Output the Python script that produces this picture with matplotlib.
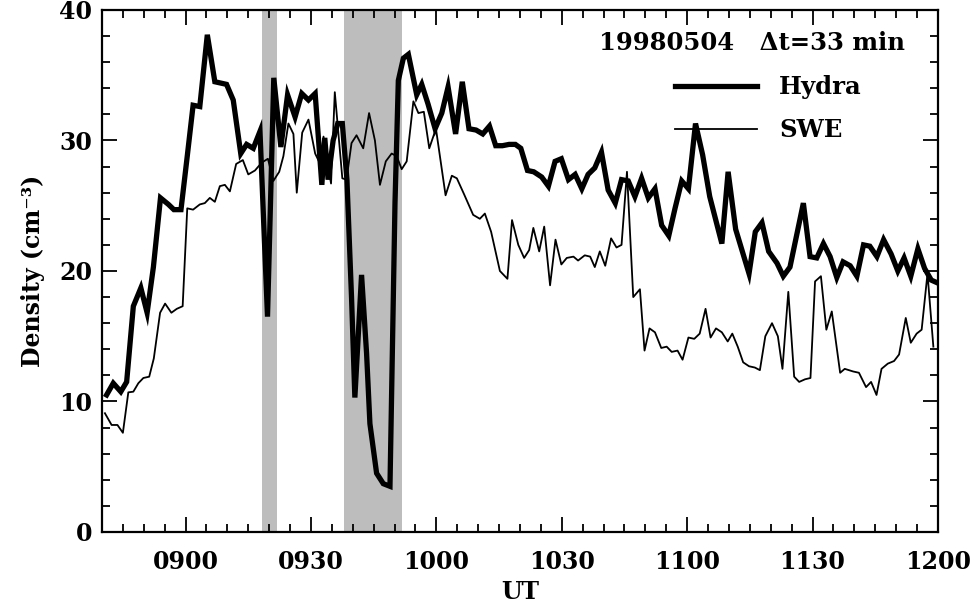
import matplotlib
matplotlib.use("Agg")
import matplotlib.pyplot as plt
from matplotlib.ticker import MultipleLocator

# time in minutes after 08:00 UT
hydra_t = [41.1, 42.7, 44.5, 45.9, 47.5, 49.3, 50.8, 52.3, 54.0, 55.9, 57.2, 58.9,
           60.4, 61.8, 63.4, 65.2, 67.0, 68.4, 69.8, 71.4, 73.2, 74.6, 76.2, 77.8,
           79.6, 81.1, 82.8, 84.4, 86.2, 87.8, 89.4, 91.0, 92.6, 93.3, 94.1, 95.3,
           96.4, 97.5, 98.6, 99.7, 100.5, 102.1, 103.3, 104.1, 105.7, 107.3, 108.9,
           110.1, 110.9, 112.1, 113.3, 115.3, 116.5, 118.0, 119.7, 121.3, 122.8,
           124.6, 126.2, 127.8, 129.5, 131.1, 132.7, 134.2, 135.8, 137.4, 138.9,
           140.2, 141.8, 143.3, 145.2, 146.8, 148.4, 149.9, 151.6, 153.2, 154.8,
           156.3, 157.9, 159.5, 161.1, 162.8, 164.3, 165.9, 167.5, 169.1, 170.7,
           172.3, 173.9, 175.6, 177.1, 178.7, 180.3, 182.0, 183.7, 185.4, 188.3,
           189.8, 191.6, 194.8, 196.3, 197.9, 199.5, 201.5, 203.0, 204.6, 207.8,
           209.4, 211.0, 212.6, 214.2, 215.8, 217.3, 219.0, 220.6, 222.2, 223.7,
           225.4, 227.0, 228.8, 230.4, 231.9, 233.5, 235.2, 236.8, 238.4, 239.8]
hydra_n = [10.5, 11.4, 10.75, 11.5, 17.3, 18.7, 16.8, 20.3, 25.6, 25.1, 24.7, 24.7,
           28.8, 32.7, 32.6, 38.1, 34.5, 34.4, 34.3, 33.1, 29.0, 29.7, 29.4, 30.7,
           16.5, 34.8, 29.5, 33.5, 31.8, 33.6, 33.1, 33.6, 26.6, 30.2, 27.0, 30.0,
           31.3, 31.3, 27.0, 18.0, 10.3, 19.7, 13.7, 8.3, 4.5, 3.7, 3.5,
           25.2, 34.6, 36.3, 36.6, 33.5, 34.3, 32.8, 30.9, 32.1, 34.1,
           30.5, 34.5, 30.9, 30.8, 30.5, 31.1, 29.6, 29.6, 29.7, 29.7,
           29.4, 27.7, 27.6, 27.2, 26.5, 28.4, 28.6, 27.0, 27.4, 26.3,
           27.4, 27.9, 29.1, 26.2, 25.2, 27.0, 26.9, 25.7, 27.1, 25.6,
           26.3, 23.5, 22.7, 24.8, 26.9, 26.3, 31.3, 28.9, 25.7, 22.1,
           27.6, 23.2, 19.8, 23.0, 23.7, 21.5, 20.6, 19.6, 20.3, 25.2,
           21.1, 21.0, 22.1, 21.1, 19.5, 20.7, 20.4, 19.6, 22.0, 21.9,
           21.1, 22.4, 21.3, 20.0, 21.0, 19.6, 21.7, 20.2, 19.3, 19.1]

swe_t = [40.7, 42.3, 43.7, 45.0, 46.3, 47.5, 48.7, 49.9, 51.3, 52.4, 53.9, 55.1,
         56.6, 57.9, 59.3, 60.4, 61.8, 63.4, 64.6, 65.8, 67.0, 68.2, 69.4, 70.6,
         72.1, 73.7, 75.0, 76.6, 78.2, 79.7, 81.0, 82.4, 83.4, 84.6, 85.8, 86.6,
         87.9, 89.4, 91.0, 92.2, 93.0, 94.8, 95.7, 97.5, 98.5, 99.7, 100.9, 102.5,
         103.9, 105.3, 106.5, 107.9, 109.3, 110.5, 111.7, 112.9, 114.5, 115.7,
         117.0, 118.3, 119.9, 122.2, 123.7, 124.9, 126.6, 128.8, 130.4, 131.6,
         133.1, 135.2, 137.0, 138.1, 139.6, 141.0, 142.2, 143.2, 144.6, 145.8,
         147.2, 148.5, 149.9, 151.2, 152.8, 153.9, 155.5, 156.8, 157.9, 159.1,
         160.4, 161.8, 163.1, 164.3, 165.6, 167.1, 168.7, 169.8, 171.0, 172.3,
         173.8, 175.1, 176.3, 177.7, 178.9, 180.3, 181.7, 183.0, 184.4, 185.6,
         186.9, 188.3, 189.7, 190.8, 192.1, 193.4, 194.8, 196.2, 197.4, 198.7,
         200.3, 201.7, 202.8, 204.2, 205.6, 206.8, 208.2, 209.5, 210.6, 212.0,
         213.3, 214.6, 216.6, 217.7, 219.7, 221.1, 222.8, 224.0, 225.3, 226.5,
         228.0, 229.5, 230.7, 232.3, 233.5, 234.9, 236.1, 237.5, 238.9]
swe_n = [9.1, 8.2, 8.2, 7.6, 10.7, 10.75, 11.4, 11.8, 11.9, 13.3, 16.8, 17.5,
         16.8, 17.1, 17.3, 24.8, 24.7, 25.1, 25.2, 25.6, 25.3, 26.5, 26.6, 26.1,
         28.2, 28.5, 27.4, 27.7, 28.3, 28.6, 26.9, 27.6, 28.8, 31.3, 30.5, 26.0,
         30.6, 31.6, 29.0, 28.2, 30.3, 26.7, 33.7, 27.1, 27.0, 29.8, 30.4, 29.4,
         32.1, 30.0, 26.6, 28.4, 29.0, 28.8, 27.8, 28.4, 33.0, 32.1,
         32.2, 29.4, 30.9, 25.8, 27.3, 27.1, 25.9, 24.3, 24.0, 24.4,
         23.0, 20.0, 19.4, 23.9, 22.0, 21.0, 21.6, 23.3, 21.5, 23.4,
         18.9, 22.4, 20.5, 21.0, 21.1, 20.8, 21.2, 21.1, 20.3, 21.5,
         20.4, 22.5, 21.8, 22.0, 27.6, 18.0, 18.6, 13.9, 15.6, 15.3,
         14.1, 14.2, 13.8, 13.9, 13.2, 14.9, 14.8, 15.2, 17.1, 14.9,
         15.6, 15.3, 14.6, 15.2, 14.2, 13.0, 12.7, 12.6, 12.4, 15.0,
         16.0, 15.0, 12.5, 18.4, 11.9, 11.5, 11.7, 11.8, 19.2, 19.6,
         15.5, 16.9, 12.2, 12.5, 12.3, 12.2, 11.1, 11.5, 10.5, 12.5,
         12.9, 13.1, 13.6, 16.4, 14.5, 15.2, 15.5, 19.8, 14.2]

# shaded intervals (minutes after 08:00)
shade_spans = [(78.3, 81.9), (98.0, 111.8)]

xtick_pos = [60, 90, 120, 150, 180, 210, 240]
xtick_labels = ["0900", "0930", "1000", "1030", "1100", "1130", "1200"]
ytick_pos = [0, 10, 20, 30, 40]

serif = ["DejaVu Serif"]
plt.rcParams["font.family"] = serif

fig = plt.figure(figsize=(9.75, 6.05), dpi=100)
ax = fig.add_axes([0.1046, 0.1207, 0.8574, 0.8628])

for a, b in shade_spans:
    ax.axvspan(a, b, color="#bdbdbd", lw=0, zorder=0)

ax.plot(hydra_t, hydra_n, color="black", lw=3.8, solid_joinstyle="miter", label="Hydra", zorder=3)
ax.plot(swe_t, swe_n, color="black", lw=1.3, label="SWE", zorder=2)

ax.set_xlim(40, 240)
ax.set_ylim(0, 40)
ax.set_xticks(xtick_pos)
ax.set_xticklabels(xtick_labels)
ax.set_yticks(ytick_pos)
ax.xaxis.set_minor_locator(MultipleLocator(5))
ax.yaxis.set_minor_locator(MultipleLocator(2))
ax.tick_params(which="both", direction="in", top=True, right=True, width=1.3)
ax.tick_params(which="major", length=11, labelsize=17)
ax.tick_params(axis="x", which="major", pad=13)
ax.tick_params(axis="y", which="major", pad=7)
ax.tick_params(which="minor", length=5.5)
for lab in ax.get_xticklabels() + ax.get_yticklabels():
    lab.set_fontweight("bold")
for s in ax.spines.values():
    s.set_linewidth(1.6)

ax.set_xlabel("UT", fontsize=17, fontweight="bold", labelpad=4)
ax.set_ylabel("Density (cm⁻³)", fontsize=17, fontweight="bold", labelpad=10)

ax.text(0.96, 0.937, "19980504   Δt=33 min", transform=ax.transAxes,
        ha="right", va="center", fontsize=17.5, fontweight="bold")
leg = ax.legend(loc="upper left", bbox_to_anchor=(0.685, 0.8745), frameon=False,
                handlelength=3.4, handletextpad=0.9, labelspacing=0.78,
                borderpad=0, borderaxespad=0,
                prop={"family": serif, "weight": "bold", "size": 17.5})

fig.savefig("out.png", dpi=100)
